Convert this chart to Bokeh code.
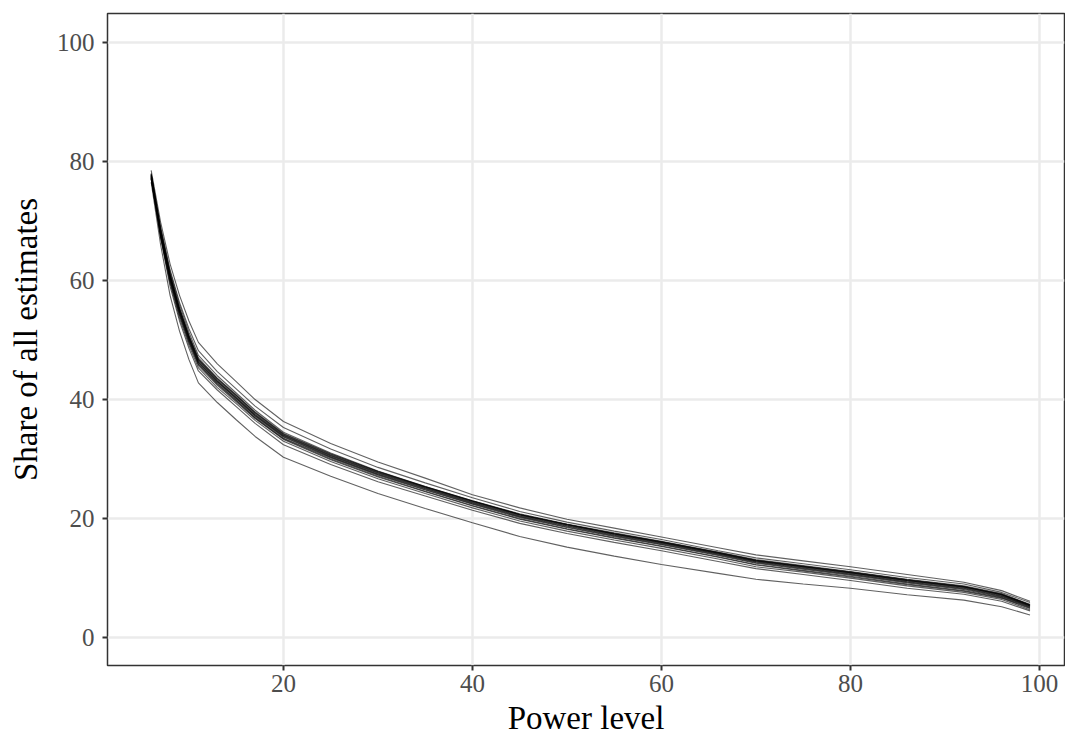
from bokeh.plotting import figure
from bokeh.models import Range1d, FixedTicker
from bokeh.embed import file_html
from bokeh.resources import INLINE

# Power level sample points
power = [6, 7, 8, 9, 10, 11, 13, 15, 17, 20, 25, 30, 35, 40, 45, 50, 55, 60, 66, 70, 75, 80, 86, 92, 96, 99]

# Share of all estimates, one list per series
s1 = [76.5, 66.0, 57.5, 51.5, 46.7, 42.8, 39.5, 36.6, 33.8, 30.3, 27.1, 24.2, 21.7, 19.3, 17.0, 15.2, 13.7, 12.3, 10.8, 9.8, 9.0, 8.3, 7.2, 6.3, 5.2, 3.8]
s2 = [77.0, 67.2, 59.0, 53.2, 48.6, 44.8, 41.6, 38.8, 36.0, 32.4, 29.1, 26.2, 23.8, 21.4, 19.2, 17.5, 16.0, 14.6, 12.8, 11.6, 10.6, 9.6, 8.3, 7.3, 6.1, 4.5]
s3 = [78.5, 69.8, 62.8, 57.5, 53.2, 49.6, 46.0, 43.0, 40.0, 36.3, 32.6, 29.5, 26.8, 24.0, 21.8, 19.9, 18.4, 16.9, 15.1, 13.9, 12.9, 11.9, 10.6, 9.3, 7.9, 6.1]
s4 = [78.0, 69.0, 61.8, 56.3, 51.9, 48.2, 44.7, 41.8, 38.9, 35.3, 31.7, 28.6, 26.0, 23.5, 21.2, 19.4, 17.9, 16.5, 14.6, 13.4, 12.4, 11.4, 10.1, 9.0, 7.6, 5.9]
s5 = [77.8, 68.5, 61.1, 55.4, 50.8, 47.0, 43.6, 40.8, 37.9, 34.3, 30.9, 27.9, 25.4, 23.0, 20.8, 19.1, 17.6, 16.2, 14.4, 13.1, 12.1, 11.1, 9.8, 8.7, 7.4, 5.6]
s6 = [77.6, 68.2, 60.8, 55.0, 50.4, 46.6, 43.2, 40.4, 37.5, 34.0, 30.6, 27.7, 25.2, 22.8, 20.6, 18.9, 17.4, 16.0, 14.2, 12.9, 11.9, 10.9, 9.6, 8.5, 7.2, 5.4]
s7 = [77.5, 68.0, 60.5, 54.8, 50.2, 46.3, 43.0, 40.2, 37.3, 33.8, 30.4, 27.5, 25.0, 22.6, 20.4, 18.7, 17.2, 15.8, 14.0, 12.7, 11.7, 10.7, 9.4, 8.3, 7.0, 5.3]
s8 = [77.3, 67.7, 60.2, 54.5, 49.9, 46.0, 42.7, 39.9, 37.0, 33.5, 30.2, 27.3, 24.8, 22.4, 20.2, 18.5, 17.0, 15.6, 13.8, 12.5, 11.5, 10.5, 9.2, 8.1, 6.8, 5.1]
s9 = [77.1, 67.4, 59.8, 54.1, 49.5, 45.7, 42.4, 39.6, 36.8, 33.3, 29.9, 27.0, 24.5, 22.1, 19.9, 18.2, 16.7, 15.3, 13.5, 12.2, 11.2, 10.2, 8.9, 7.8, 6.6, 4.9]
s10 = [77.9, 68.8, 61.5, 55.9, 51.3, 47.4, 44.0, 41.1, 38.2, 34.5, 31.0, 28.0, 25.4, 23.0, 20.7, 19.0, 17.5, 16.1, 14.3, 13.0, 12.0, 11.0, 9.7, 8.6, 7.3, 5.5]
s11 = [77.2, 67.3, 59.5, 53.7, 49.1, 45.3, 42.0, 39.3, 36.5, 33.0, 29.6, 26.7, 24.2, 21.8, 19.6, 17.9, 16.4, 15.0, 13.2, 11.9, 11.0, 10.0, 8.7, 7.6, 6.4, 4.7]
s12 = [77.7, 68.3, 60.9, 55.2, 50.6, 46.7, 43.4, 40.6, 37.7, 34.1, 30.7, 27.8, 25.3, 22.9, 20.7, 19.0, 17.4, 16.0, 14.2, 12.9, 11.9, 10.9, 9.6, 8.5, 7.2, 5.5]
s13 = [77.5, 68.1, 60.6, 54.9, 50.3, 46.4, 43.1, 40.3, 37.4, 33.9, 30.5, 27.6, 25.1, 22.7, 20.5, 18.8, 17.3, 15.9, 14.1, 12.8, 11.8, 10.8, 9.5, 8.4, 7.1, 5.3]
s14 = [77.4, 67.9, 60.4, 54.7, 50.1, 46.2, 42.9, 40.1, 37.2, 33.7, 30.3, 27.4, 24.9, 22.5, 20.3, 18.6, 17.1, 15.7, 13.9, 12.6, 11.6, 10.6, 9.3, 8.2, 6.9, 5.2]
s15 = [77.7, 68.4, 61.0, 55.3, 50.7, 46.8, 43.5, 40.7, 37.8, 34.2, 30.8, 27.9, 25.3, 22.9, 20.7, 19.0, 17.5, 16.1, 14.3, 13.0, 12.0, 11.0, 9.7, 8.6, 7.3, 5.5]
s16 = [77.2, 67.6, 60.0, 54.3, 49.7, 45.9, 42.6, 39.8, 36.9, 33.4, 30.0, 27.1, 24.6, 22.2, 20.0, 18.3, 16.8, 15.4, 13.6, 12.3, 11.3, 10.3, 9.0, 7.9, 6.7, 5.0]

series = [s1, s2, s3, s4, s5, s6, s7, s8, s9, s10, s11, s12, s13, s14, s15, s16]

x_ticks = [20, 40, 60, 80, 100]
y_ticks = [0, 20, 40, 60, 80, 100]

FONT = "Liberation Serif"

p = figure(width=1065, height=738, output_backend="svg", toolbar_location=None,
           x_range=Range1d(1.38, 102.65), y_range=Range1d(-4.68, 104.85),
           min_border_left=107, min_border_right=1, min_border_top=13, min_border_bottom=71,
           background_fill_color="white", border_fill_color="white")

for s in series:
    p.line(power, s, line_color="black", line_alpha=0.62, line_width=1.1)

p.outline_line_color = "#333333"
p.outline_line_width = 1.5

p.xgrid.ticker = FixedTicker(ticks=x_ticks)
p.ygrid.ticker = FixedTicker(ticks=y_ticks)
for g in (p.xgrid, p.ygrid):
    g.grid_line_color = "#EBEBEB"
    g.grid_line_width = 2.5
    g.minor_grid_line_color = None

p.xaxis.ticker = FixedTicker(ticks=x_ticks)
p.yaxis.ticker = FixedTicker(ticks=y_ticks)
p.xaxis.axis_label = "Power level"
p.yaxis.axis_label = "Share of all estimates"
for ax in (p.xaxis, p.yaxis):
    ax.axis_line_color = None
    ax.major_tick_line_color = "#333333"
    ax.major_tick_line_width = 2
    ax.major_tick_out = 5
    ax.major_tick_in = 0
    ax.minor_tick_line_color = None
    ax.major_label_text_font = FONT
    ax.major_label_text_font_size = "25px"
    ax.major_label_text_color = "#4D4D4D"
    ax.axis_label_text_font = FONT
    ax.axis_label_text_font_size = "33px"
    ax.axis_label_text_font_style = "normal"
    ax.axis_label_text_color = "black"
p.xaxis.major_label_standoff = 4
p.xaxis.axis_label_standoff = 5
p.yaxis.major_label_standoff = 8
p.yaxis.axis_label_standoff = 10

open("out.html", "w").write(file_html(p, INLINE))
